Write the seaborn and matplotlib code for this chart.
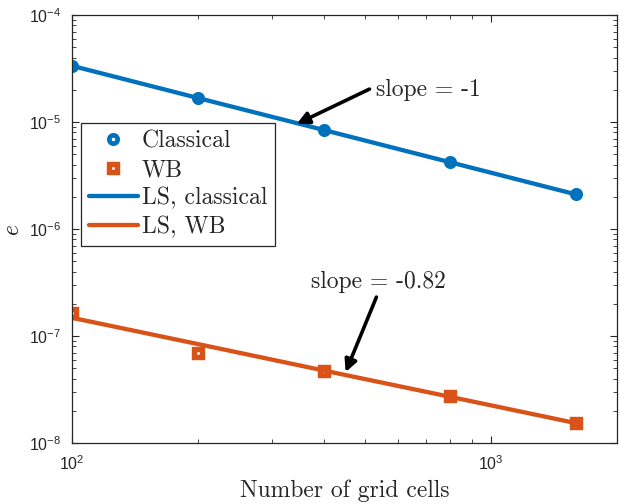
import matplotlib
matplotlib.use("Agg")
import matplotlib.pyplot as plt
import numpy as np
import pandas as pd
import seaborn as sns
from matplotlib.ticker import LogLocator, NullFormatter
from matplotlib.lines import Line2D

# ---- data ----
cells = [100, 200, 400, 800, 1600]
err_classical = [3.35e-5, 1.67e-5, 8.4e-6, 4.2e-6, 2.12e-6]
err_wb = [1.65e-7, 7.0e-8, 4.75e-8, 2.77e-8, 1.53e-8]
ls_classical = [3.35e-5, 1.675e-5, 8.4e-6, 4.2e-6, 2.1e-6]
ls_wb = [1.48e-7, 8.4e-8, 4.75e-8, 2.7e-8, 1.53e-8]
labels = ["Classical", "WB", "LS, classical", "LS, WB"]
slope_texts = ["slope = -1", "slope = -0.82"]

BLUE = "#0072BD"
ORANGE = "#D95319"
DARK = "#262626"

sns.set_style("ticks")
plt.rcParams["mathtext.fontset"] = "custom"
plt.rcParams["mathtext.rm"] = "Liberation Sans"
plt.rcParams["mathtext.it"] = "Liberation Sans:italic"
plt.rcParams["mathtext.bf"] = "Liberation Sans:bold"
plt.rcParams["font.family"] = ["Liberation Sans", "DejaVu Sans"]

df = pd.DataFrame({"cells": cells, "classical": err_classical, "wb": err_wb,
                   "ls_classical": ls_classical, "ls_wb": ls_wb})

fig = plt.figure(figsize=(6.19, 5.04), dpi=100)
ax = fig.add_axes([72 / 619, 1 - 443 / 504, 545 / 619, 428 / 504])

MS = 6.0
MEW_C = 3.4
MEW_S = 3.9
LW = 3.1
ms_kw = dict(linestyle="none", markerfacecolor="white", markersize=MS)
sns.lineplot(data=df, x="cells", y="classical", ax=ax, marker="o",
             markeredgecolor=BLUE, markeredgewidth=MEW_C, color=BLUE, **ms_kw)
sns.lineplot(data=df, x="cells", y="wb", ax=ax, marker="s",
             markeredgecolor=ORANGE, markeredgewidth=MEW_S, color=ORANGE, **ms_kw)
sns.lineplot(data=df, x="cells", y="ls_classical", ax=ax, color=BLUE, lw=LW)
sns.lineplot(data=df, x="cells", y="ls_wb", ax=ax, color=ORANGE, lw=LW)

ax.set_xscale("log")
ax.set_yscale("log")
ax.set_xlim(100, 2000)
ax.set_ylim(1e-8, 1e-4)

ax.xaxis.set_major_locator(LogLocator(base=10, numticks=10))
ax.xaxis.set_minor_locator(LogLocator(base=10, subs=np.arange(2, 10), numticks=20))
ax.xaxis.set_minor_formatter(NullFormatter())
ax.yaxis.set_major_locator(LogLocator(base=10, numticks=10))
ax.yaxis.set_minor_locator(LogLocator(base=10, subs=np.arange(2, 10), numticks=20))
ax.yaxis.set_minor_formatter(NullFormatter())

for s in ax.spines.values():
    s.set_visible(True)
    s.set_color(DARK)
    s.set_linewidth(0.9)
ax.tick_params(which="both", direction="in", top=True, right=True,
               colors=DARK, labelsize=11.5)
ax.tick_params(which="major", length=5, width=0.8, pad=8)
ax.tick_params(which="minor", length=3, width=0.6)

ax.set_xlabel("Number of grid cells", fontfamily="cmr10", fontsize=17, color=DARK, labelpad=5)
ax.set_ylabel("e", fontfamily="cmmi10", fontsize=17, color=DARK, labelpad=4)

# legend
handles = [
    Line2D([], [], marker="o", linestyle="none", markerfacecolor="white",
           markeredgecolor=BLUE, markeredgewidth=MEW_C, markersize=MS),
    Line2D([], [], marker="s", linestyle="none", markerfacecolor="white",
           markeredgecolor=ORANGE, markeredgewidth=MEW_S, markersize=MS),
    Line2D([], [], color=BLUE, lw=LW),
    Line2D([], [], color=ORANGE, lw=LW),
]
leg = ax.legend(handles, labels, loc="upper left", bbox_to_anchor=(0.0165, 0.748),
                borderaxespad=0, frameon=True, fancybox=False, framealpha=1,
                edgecolor=DARK, handlelength=2.1, handletextpad=0.15,
                labelspacing=0.27, borderpad=0.32,
                prop={"family": "cmr10", "size": 17})
leg.get_frame().set_linewidth(0.9)

# annotations
arrow_kw = dict(arrowstyle="-|>", lw=2.6, color="black", mutation_scale=18,
                shrinkA=0, shrinkB=0)
ax.text(533, 1.99e-5, slope_texts[0], fontfamily="cmr10", fontsize=17,
        ha="left", va="center")
ax.annotate("", xy=(344, 9.6e-6), xytext=(513, 2.03e-5), arrowprops=arrow_kw)
ax.text(539, 3.2e-7, slope_texts[1], fontfamily="cmr10", fontsize=17,
        ha="center", va="center")
ax.annotate("", xy=(450, 4.6e-8), xytext=(533, 2.31e-7), arrowprops=arrow_kw)

fig.savefig("out.png", dpi=100)
